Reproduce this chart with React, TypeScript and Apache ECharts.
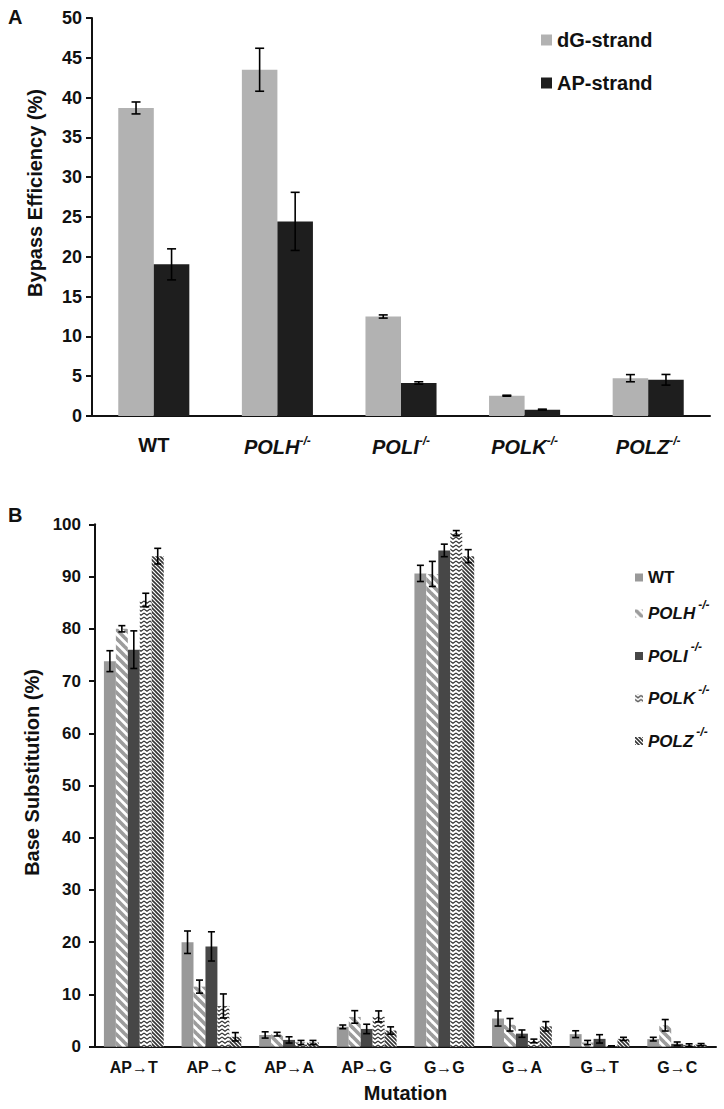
import React, { useEffect, useRef } from 'react';
import * as echarts from 'echarts';

// ---- Panel A data ----
const strainsA = ['WT', 'POLH', 'POLI', 'POLK', 'POLZ'];
const dGStrand = [38.7, 43.5, 12.5, 2.55, 4.75];
const dGErr = [0.75, 2.7, 0.2, 0.06, 0.45];
const apStrand = [19.05, 24.45, 4.15, 0.8, 4.55];
const apErr = [1.95, 3.65, 0.15, 0.06, 0.67];
const legendA = ['dG-strand', 'AP-strand'];

// ---- Panel B data ----
const mutations = ['AP→T', 'AP→C', 'AP→A', 'AP→G', 'G→G', 'G→A', 'G→T', 'G→C'];
const legendB = ['WT', 'POLH', 'POLI', 'POLK', 'POLZ'];
const wt = [73.8, 20.0, 2.25, 3.8, 90.6, 5.4, 2.4, 1.45];
const wtErr = [2.0, 2.15, 0.6, 0.35, 1.55, 1.45, 0.65, 0.35];
const polh = [80.0, 11.5, 2.4, 5.7, 90.5, 4.2, 0.8, 4.1];
const polhErr = [0.6, 1.25, 0.35, 1.2, 2.4, 1.2, 0.4, 1.1];
const poli = [76.0, 19.2, 1.3, 3.4, 95.0, 2.5, 1.5, 0.55];
const poliErr = [3.6, 2.8, 0.6, 0.9, 1.2, 0.7, 0.8, 0.35];
const polk = [85.5, 7.8, 0.8, 5.8, 98.3, 1.1, 0.15, 0.3];
const polkErr = [1.3, 2.3, 0.4, 1.05, 0.5, 0.35, 0.0, 0.25];
const polz = [93.9, 1.9, 0.8, 3.1, 93.9, 3.9, 1.5, 0.4];
const polzErr = [1.5, 0.8, 0.4, 0.7, 1.25, 0.9, 0.3, 0.2];

const FONT = '"Liberation Sans", Arial, Helvetica, sans-serif';
const INK = '#111111';

function makePattern(kind: string): any {
  const c = document.createElement('canvas');
  let w = 8, h = 8;
  if (kind === 'polh') { w = 9; h = 9; }
  if (kind === 'polz') { w = 4; h = 4; }
  if (kind === 'polk') { w = 6; h = 4; }
  c.width = w; c.height = h;
  const ctx = c.getContext('2d') as CanvasRenderingContext2D;
  ctx.fillStyle = '#ffffff';
  ctx.fillRect(0, 0, w, h);
  if (kind === 'polh' || kind === 'polz') {
    ctx.strokeStyle = kind === 'polh' ? '#9c9c9c' : '#343434';
    ctx.lineWidth = kind === 'polh' ? 3.6 : 1.6;
    ctx.lineCap = 'square';
    for (const k of [-w, 0, w]) {
      ctx.beginPath();
      ctx.moveTo(k, 0);
      ctx.lineTo(k + w, h);
      ctx.stroke();
    }
  } else if (kind === 'polk') {
    ctx.strokeStyle = '#333333';
    ctx.lineWidth = 1.1;
    ctx.beginPath();
    ctx.moveTo(0, 1);
    ctx.lineTo(3, 3.2);
    ctx.lineTo(6, 1);
    ctx.stroke();
  }
  return { image: c, repeat: 'repeat' };
}

function errRender(seriesIdx: number, n: number, gapFrac: number, cap: number, lw: number) {
  return (params: any, api: any) => {
    const idx = api.value(0);
    const lo = api.value(1);
    const hi = api.value(2);
    const catW = api.size([1, 0])[0];
    const groupW = catW * (1 - gapFrac);
    const bw = groupW / n;
    const off = -groupW / 2 + bw * (seriesIdx + 0.5);
    const pHi = api.coord([idx, hi]);
    const pLo = api.coord([idx, lo]);
    const x = pHi[0] + off;
    const st = { stroke: '#000', lineWidth: lw };
    return {
      type: 'group',
      children: [
        { type: 'line', shape: { x1: x, y1: pHi[1], x2: x, y2: pLo[1] }, style: st },
        { type: 'line', shape: { x1: x - cap, y1: pHi[1], x2: x + cap, y2: pHi[1] }, style: st },
        { type: 'line', shape: { x1: x - cap, y1: pLo[1], x2: x + cap, y2: pLo[1] }, style: st },
      ],
    };
  };
}

function errData(vals: number[], errs: number[]) {
  return vals.map((v, i) => [i, Math.max(0, v - errs[i]), v + errs[i]]);
}

export default function App() {
  const ref = useRef<HTMLDivElement>(null);
  useEffect(() => {
    if (!ref.current) return;
    const chart = echarts.init(ref.current, undefined, { renderer: 'svg' });

    const gapA = 0.425;
    const gapB = 0.23;
    const colorsB = [
      '#999999',
      makePattern('polh'),
      '#474747',
      makePattern('polk'),
      makePattern('polz'),
    ];
    const valsB = [wt, polh, poli, polk, polz];
    const errsB = [wtErr, polhErr, poliErr, polkErr, polzErr];

    const axisLineStyle = { color: INK, width: 2 };

    const series: any[] = [
      {
        name: legendA[0], type: 'bar', xAxisIndex: 0, yAxisIndex: 0, data: dGStrand,
        itemStyle: { color: '#b2b2b2' }, barGap: '0%', barCategoryGap: gapA * 100 + '%',
      },
      {
        name: legendA[1], type: 'bar', xAxisIndex: 0, yAxisIndex: 0, data: apStrand,
        itemStyle: { color: '#1e1e1e' }, barGap: '0%', barCategoryGap: gapA * 100 + '%',
      },
      {
        name: 'errA0', type: 'custom', xAxisIndex: 0, yAxisIndex: 0, z: 5,
        renderItem: errRender(0, 2, gapA, 4.5, 1.6), data: errData(dGStrand, dGErr),
      },
      {
        name: 'errA1', type: 'custom', xAxisIndex: 0, yAxisIndex: 0, z: 5,
        renderItem: errRender(1, 2, gapA, 4.5, 1.6), data: errData(apStrand, apErr),
      },
    ];
    legendB.forEach((nm, i) => {
      series.push({
        name: nm, type: 'bar', xAxisIndex: 1, yAxisIndex: 1, data: valsB[i],
        itemStyle: { color: colorsB[i] }, barGap: '0%', barCategoryGap: gapB * 100 + '%',
      });
    });
    legendB.forEach((nm, i) => {
      series.push({
        name: 'errB' + i, type: 'custom', xAxisIndex: 1, yAxisIndex: 1, z: 5,
        renderItem: errRender(i, 5, gapB, 3.5, 1.6), data: errData(valsB[i], errsB[i]),
      });
    });

    const option: any = {
      animation: false,
      textStyle: { fontFamily: FONT },
      graphic: [
        { type: 'text', left: 8, top: 7, style: { text: 'A', fontSize: 20, fontWeight: 'bold', fill: INK, fontFamily: FONT } },
        { type: 'text', left: 8, top: 505, style: { text: 'B', fontSize: 20, fontWeight: 'bold', fill: INK, fontFamily: FONT } },
      ],
      legend: [
        {
          data: legendA, orient: 'vertical', left: 536, top: 25, itemWidth: 11, itemHeight: 11,
          itemGap: 23, icon: 'rect', selectedMode: false,
          textStyle: { fontSize: 20, fontWeight: 'bold', color: INK, lineHeight: 20, fontFamily: FONT },
        },
        {
          data: legendB, orient: 'vertical', left: 630, top: 564, itemWidth: 8, itemHeight: 8,
          itemGap: 12.5, icon: 'rect', selectedMode: false,
          formatter: (name: string) => (name === 'WT' ? '{n|WT}' : `{i|${name}}{s|-/-}`),
          textStyle: {
            fontFamily: FONT,
            rich: {
              n: { fontSize: 17, fontWeight: 'bold', color: INK, lineHeight: 30, fontFamily: FONT },
              i: { fontSize: 17, fontWeight: 'bold', fontStyle: 'italic', color: INK, lineHeight: 20, fontFamily: FONT },
              s: { fontSize: 12, fontWeight: 'bold', fontStyle: 'italic', color: INK, lineHeight: 12, padding: [0, 0, 18, 3], fontFamily: FONT },
            },
          },
        },
      ],
      grid: [
        { left: 92, top: 18, width: 618, height: 398 },
        { left: 95, top: 524.3, width: 621, height: 522.4 },
      ],
      xAxis: [
        {
          type: 'category', gridIndex: 0, data: strainsA,
          axisLine: { lineStyle: axisLineStyle },
          axisTick: { length: 6, lineStyle: { color: INK, width: 2 } },
          axisLabel: {
            margin: 19,
            formatter: (v: string) => (v === 'WT' ? '{n|WT}' : `{i|${v}}{s|-/-}`),
            rich: {
              n: { fontSize: 20, fontWeight: 'bold', color: INK, fontFamily: FONT },
              i: { fontSize: 20, fontWeight: 'bold', fontStyle: 'italic', color: INK, fontFamily: FONT },
              s: { fontSize: 12, fontWeight: 'bold', fontStyle: 'italic', color: INK, padding: [0, 0, 12, 0], fontFamily: FONT },
            },
          },
        },
        {
          type: 'category', gridIndex: 1, data: mutations,
          name: 'Mutation', nameLocation: 'middle', nameGap: 36,
          nameTextStyle: { fontSize: 20, fontWeight: 'bold', color: INK, fontFamily: FONT },
          axisLine: { lineStyle: axisLineStyle },
          axisTick: { length: 6, lineStyle: { color: INK, width: 2 } },
          axisLabel: { margin: 13, fontSize: 16, fontWeight: 'bold', color: INK, fontFamily: FONT },
        },
      ],
      yAxis: [
        {
          type: 'value', gridIndex: 0, min: 0, max: 50, interval: 5,
          name: 'Bypass Efficiency (%)', nameLocation: 'middle', nameGap: 47,
          nameTextStyle: { fontSize: 20, fontWeight: 'bold', color: INK, fontFamily: FONT, padding: [0, 0, 0, 48] },
          splitLine: { show: false },
          axisLine: { show: true, lineStyle: axisLineStyle },
          axisTick: { show: true, length: 6, lineStyle: { color: INK, width: 2 } },
          axisLabel: { margin: 10, fontSize: 18, fontWeight: 'bold', color: INK, fontFamily: FONT },
        },
        {
          type: 'value', gridIndex: 1, min: 0, max: 100, interval: 10,
          name: 'Base Substitution (%)', nameLocation: 'middle', nameGap: 51,
          nameTextStyle: { fontSize: 20, fontWeight: 'bold', color: INK, fontFamily: FONT, padding: [0, 0, 0, 26] },
          splitLine: { show: false },
          axisLine: { show: true, lineStyle: axisLineStyle },
          axisTick: { show: true, length: 6, lineStyle: { color: INK, width: 2 } },
          axisLabel: { margin: 14, fontSize: 17, fontWeight: 'bold', color: INK, fontFamily: FONT },
        },
      ],
      series,
    };
    chart.setOption(option);
    return () => chart.dispose();
  }, []);
  return (
    <div
      ref={ref}
      style={{ position: 'absolute', left: 0, top: 0, width: 724, height: 1109, background: '#fff' }}
    />
  );
}
